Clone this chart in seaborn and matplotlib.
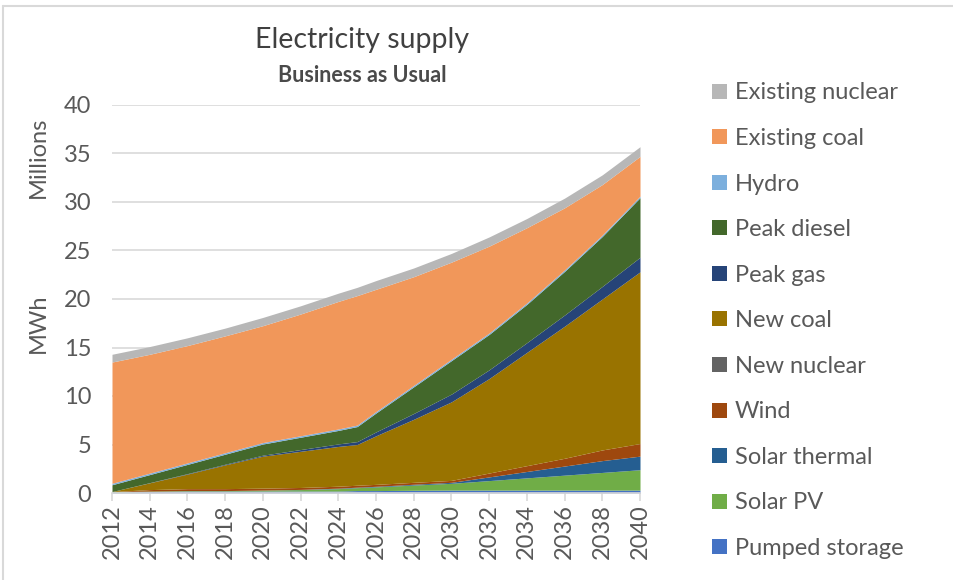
import matplotlib
matplotlib.use("Agg")
import matplotlib.pyplot as plt
import seaborn as sns
from matplotlib.patches import Patch
from matplotlib.lines import Line2D

years = [2012, 2014, 2016, 2018, 2020, 2022, 2024, 2025, 2026, 2028, 2030, 2032, 2034, 2036, 2038, 2040]

pumped_storage = [0.10, 0.15, 0.20, 0.20, 0.20, 0.20, 0.20, 0.25, 0.25, 0.28, 0.30, 0.30, 0.30, 0.30, 0.30, 0.30]
solar_pv = [0.05, 0.05, 0.05, 0.05, 0.10, 0.15, 0.25, 0.30, 0.38, 0.54, 0.70, 0.98, 1.26, 1.54, 1.82, 2.10]
solar_thermal = [0.00, 0.00, 0.00, 0.00, 0.00, 0.02, 0.05, 0.05, 0.06, 0.08, 0.10, 0.38, 0.66, 0.94, 1.22, 1.40]
wind = [0.00, 0.15, 0.20, 0.20, 0.20, 0.20, 0.20, 0.20, 0.20, 0.20, 0.20, 0.40, 0.60, 0.80, 1.10, 1.30]
new_nuclear = [0.0] * 16
new_coal = [0.00, 0.70, 1.50, 2.45, 3.30, 3.73, 4.10, 4.20, 5.01, 6.50, 8.10, 9.74, 11.68, 13.62, 15.56, 17.70]
peak_gas = [0.00, 0.02, 0.05, 0.07, 0.10, 0.18, 0.26, 0.30, 0.40, 0.60, 0.80, 0.90, 1.00, 1.15, 1.30, 1.50]
peak_diesel = [0.70, 0.83, 0.95, 1.03, 1.15, 1.27, 1.39, 1.55, 1.95, 2.75, 3.45, 3.65, 3.95, 4.50, 5.15, 6.15]
hydro = [0.15] * 16
existing_coal = [12.50, 12.25, 12.10, 12.05, 12.05, 12.55, 13.15, 13.35, 12.60, 11.20, 10.00, 8.95, 7.75, 6.40, 5.20, 4.10]
existing_nuclear = [0.80, 0.80, 0.80, 0.80, 0.85, 0.85, 0.85, 0.85, 0.90, 0.90, 0.90, 0.95, 0.95, 1.00, 1.00, 1.00]

series_names = ["Pumped storage", "Solar PV", "Solar thermal", "Wind", "New nuclear",
                "New coal", "Peak gas", "Peak diesel", "Hydro", "Existing coal", "Existing nuclear"]
series_values = [pumped_storage, solar_pv, solar_thermal, wind, new_nuclear,
                 new_coal, peak_gas, peak_diesel, hydro, existing_coal, existing_nuclear]
colors = ["#4472C4", "#70AD47", "#255E91", "#9E480E", "#636363",
          "#997300", "#264478", "#43682B", "#7CAFDD", "#F1975A", "#B7B7B7"]

tick_years = list(range(2012, 2041, 2))

sns.set_theme(style="white")
plt.rcParams["font.family"] = ["Lato", "DejaVu Sans"]
text_color = "#595959"
fs = 17

fig = plt.figure(figsize=(9.54, 5.80), dpi=100)
ax = fig.add_axes([112 / 954, 1 - 493 / 580, (640 - 112) / 954, (493 - 105) / 580])

ax.stackplot(years, *series_values, colors=colors, labels=series_names, linewidth=0)

ax.set_xlim(2012, 2040)
ax.set_ylim(0, 40)
ax.set_yticks(range(0, 41, 5))
ax.set_xticks(tick_years)
ax.set_xticklabels([str(y) for y in tick_years], rotation=90)
ax.yaxis.grid(True, color="#D9D9D9", linewidth=1.2)
ax.set_axisbelow(True)
for s in ["left", "right", "top"]:
    ax.spines[s].set_visible(False)
ax.spines["bottom"].set_color("#D9D9D9")
ax.spines["bottom"].set_linewidth(1.2)
ax.tick_params(axis="x", which="major", bottom=True, length=6, width=1.2, color="#D9D9D9",
               labelsize=fs, labelcolor=text_color, pad=2)
ax.tick_params(axis="y", left=False, labelsize=fs, labelcolor=text_color, pad=9)

fig.text(0.040, 1 - 157 / 580, "Millions", rotation=90, ha="center", va="center",
         fontsize=fs, color=text_color)
fig.text(0.040, 1 - 323 / 580, "MWh", rotation=90, ha="center", va="center",
         fontsize=fs, color=text_color)

fig.text(362 / 954, 1 - 40 / 580, "Electricity supply", ha="center", va="center",
         fontsize=20.5, color="#404040")
fig.text(362 / 954, 1 - 75 / 580, "Business as Usual", ha="center", va="center",
         fontsize=15.5, fontweight="bold", color="#4a4a4a")

handles = [Patch(facecolor=c, edgecolor="none") for c in colors][::-1]
labels = series_names[::-1]
leg = fig.legend(handles, labels, loc="upper left", bbox_to_anchor=(703 / 954, 1 - 73 / 580),
                 frameon=False, fontsize=fs, handlelength=0.6, handleheight=0.6,
                 handletextpad=0.35, labelspacing=1.04, borderaxespad=0)
for t in leg.get_texts():
    t.set_color(text_color)

# outer chart border (top and left visible)
fig.add_artist(Line2D([3 / 954, 1.0], [1 - 6 / 580, 1 - 6 / 580], color="#D9D9D9", linewidth=1.5,
                      transform=fig.transFigure))
fig.add_artist(Line2D([3 / 954, 3 / 954], [0.0, 1 - 6 / 580], color="#D9D9D9", linewidth=1.5,
                      transform=fig.transFigure))

fig.savefig("out.png", dpi=100)
